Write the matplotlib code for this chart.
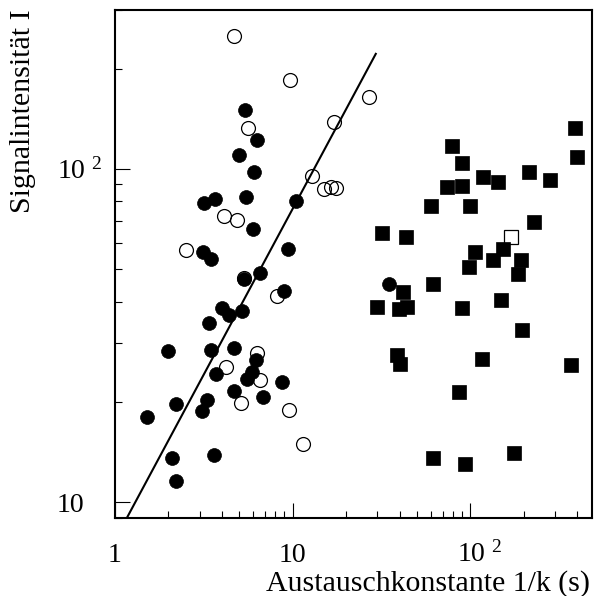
import matplotlib
matplotlib.use("Agg")
import matplotlib.pyplot as plt
from matplotlib.ticker import LogLocator, NullFormatter, FixedLocator
from matplotlib.transforms import ScaledTranslation

plt.rcParams['font.family'] = ['Liberation Serif', 'DejaVu Serif']
plt.rcParams['mathtext.fontset'] = 'custom'
plt.rcParams['mathtext.rm'] = 'Liberation Serif'
plt.rcParams['mathtext.it'] = 'Liberation Serif:italic'
plt.rcParams['mathtext.bf'] = 'Liberation Serif:bold'

# ---- data ----
open_circ_x = [4.69, 9.69, 26.8, 5.63, 17.1, 12.8, 15.0, 16.4, 17.5, 4.11, 4.84, 2.50,
               5.32, 8.13, 6.27, 4.20, 6.57, 5.14, 9.50, 11.4]
open_circ_y = [250, 185, 165, 133, 138, 95.5, 87.1, 88.3, 87.5, 72.1, 70.1, 57.3,
               47.0, 41.5, 28.1, 25.5, 23.3, 19.9, 19.0, 15.0]

fill_circ_x = [5.39, 6.32, 4.99, 6.03, 5.44, 3.17, 3.67, 5.98, 10.4, 9.37, 3.12, 3.48,
               6.57, 5.32, 8.93, 34.7, 4.00, 4.40, 5.16, 3.39, 2.00, 3.48, 4.68, 6.22,
               3.69, 5.88, 5.51, 4.68, 8.74, 6.78, 3.28, 3.10, 2.20, 1.51, 2.09, 3.61, 2.20]
fill_circ_y = [150, 122, 110, 98.1, 82.6, 78.9, 81.5, 66.2, 80.3, 57.7, 56.4, 53.7,
               48.8, 46.8, 43.2, 45.2, 38.3, 36.5, 37.6, 34.5, 28.5, 28.7, 29.1, 26.8,
               24.3, 24.6, 23.5, 21.6, 23.0, 20.7, 20.3, 18.8, 19.7, 18.0, 13.6, 13.9, 11.6]

fill_sq_x = [391, 400, 78.8, 90.5, 118, 144, 214, 280, 73.6, 90.5, 59.8, 99.5, 228,
             31.8, 43.4, 154, 106, 134, 194, 98.2, 185, 61.4, 41.9, 29.9, 39.6, 43.8,
             89.7, 149, 196, 38.6, 40.0, 117, 370, 86.6, 61.8, 92.9, 177]
fill_sq_y = [133, 109, 117, 104, 94.6, 91.2, 97.7, 92.9, 88.1, 89.1, 77.3, 77.3, 69.2,
             64.3, 62.4, 57.7, 56.2, 53.4, 53.4, 50.7, 48.5, 45.3, 42.7, 38.5, 38.1, 38.5,
             38.4, 40.6, 33.0, 27.7, 26.1, 26.9, 25.9, 21.5, 13.6, 13.0, 14.1]

open_sq_x = [169]
open_sq_y = [62.4]

fit_x = [1.168, 29.4]
fit_y = [9.0, 221.6]

xticks = [1, 10, 100]
xtick_labels = ['1', '10', r'$\mathregular{10^{\ \,2}}$']
yticks = [10, 100]
ytick_labels = ['10', r'$\mathregular{10^{\ \,2}}$']

# ---- figure ----
W, H = 595, 596
fig = plt.figure(figsize=(W / 100, H / 100), dpi=100)
ax = fig.add_axes([115 / W, 1 - 517.7 / H, (592.3 - 115) / W, (517.7 - 10) / H])
ax.set_xscale('log')
ax.set_yscale('log')
ax.set_xlim(1, 487)
ax.set_ylim(9.0, 300)

ms_c = 10
ms_s = 10.5
ax.plot(open_circ_x, open_circ_y, linestyle='none', marker='o', ms=ms_c,
        mfc='none', mec='black', mew=0.9, zorder=3)
ax.plot(fill_circ_x, fill_circ_y, linestyle='none', marker='o', ms=ms_c,
        mfc='black', mec='black', mew=0.5, zorder=4)
ax.plot(open_sq_x, open_sq_y, linestyle='none', marker='s', ms=ms_s,
        mfc='none', mec='black', mew=0.9, zorder=3)
ax.plot(fill_sq_x, fill_sq_y, linestyle='none', marker='s', ms=ms_s,
        mfc='black', mec='black', mew=0.5, zorder=4)
ax.plot(fit_x, fit_y, color='black', lw=1.5, zorder=5)

for s in ax.spines.values():
    s.set_linewidth(1.5)

ax.xaxis.set_major_locator(FixedLocator(xticks))
ax.yaxis.set_major_locator(FixedLocator(yticks))
ax.xaxis.set_minor_locator(LogLocator(base=10, subs=range(2, 10), numticks=20))
ax.yaxis.set_minor_locator(LogLocator(base=10, subs=range(2, 10), numticks=20))
ax.xaxis.set_minor_formatter(NullFormatter())
ax.yaxis.set_minor_formatter(NullFormatter())
ax.set_xticks(xticks, labels=xtick_labels)
ax.set_yticks(yticks, labels=ytick_labels)

ax.tick_params(which='both', direction='in', top=False, right=False, color='black')
ax.tick_params(which='major', length=10.8, width=0.8, labelsize=20)
ax.tick_params(which='minor', length=5.3, width=0.8)
ax.tick_params(axis='x', which='major', pad=31.9)
ax.tick_params(axis='y', which='major', pad=41.8)

for t, lab in zip(ax.xaxis.get_major_ticks(), xtick_labels):
    t.label1.set_va('baseline')
    if '2' in lab:
        t.label1.set_transform(t.label1.get_transform() +
                               ScaledTranslation(0.10, 0, fig.dpi_scale_trans))
for t in ax.yaxis.get_major_ticks():
    t.label1.set_ha('left')
    t.label1.set_va('baseline')
    t.label1.set_transform(t.label1.get_transform() +
                           ScaledTranslation(0, -0.10, fig.dpi_scale_trans))

fig.text(23.5 / W, 1 - 111.5 / H, 'Signalintensität I', rotation=90,
         ha='center', va='center', fontsize=21.5)
fig.text(590 / W, 1 - 590.7 / H, 'Austauschkonstante 1/k (s)',
         ha='right', va='baseline', fontsize=21.5)

fig.savefig('out.png', dpi=100)
